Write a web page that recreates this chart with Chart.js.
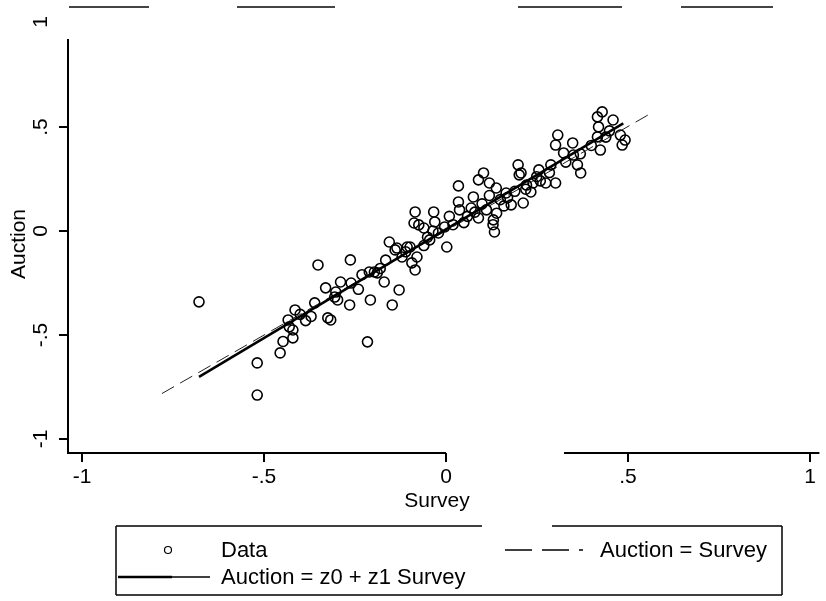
<!DOCTYPE html>
<html lang="en">
<head>
  <meta charset="UTF-8" />
  <title>Auction vs Survey</title>
  <script src="https://cdn.jsdelivr.net/npm/chart.js"></script>
  <style>
    body {
      margin: 0;
      background: #fff;
    }
    #chart-container {
      width: 826px;
      height: 601px;
    }
  </style>
</head>
<body>
  <div id="chart-container">
    <canvas id="auctionChart"></canvas>
  </div>

  <script>
    // Survey (x) and Auction (y) values for each observation
    const surveyVals = [
      -0.678, -0.518, -0.518, -0.455, -0.447, -0.420, -0.420, -0.414, -0.433, -0.360,
      -0.370, -0.351, -0.330, -0.324, -0.316, -0.297, -0.289, -0.302, -0.264, -0.262,
      -0.215, -0.207, -0.210, -0.169, -0.147, -0.128, -0.188, -0.155, -0.139, -0.093,
      -0.084, -0.120, -0.098, -0.087, -0.084, -0.033, -0.134, -0.060, -0.044, -0.196,
      -0.305, -0.074, -0.030, -0.003, 0.003, -0.106, -0.079, -0.400, -0.430, -0.385,
      -0.260, -0.240, -0.230, -0.180, -0.165, -0.110, -0.050, -0.020, -0.060, -0.035,
      0.035, 0.104, 0.090, 0.120, 0.139, 0.199, 0.207, 0.076, 0.035, 0.038,
      0.090, 0.131, 0.134, 0.213, 0.234, 0.256, 0.166, 0.112, 0.180, 0.060,
      0.020, 0.050, 0.100, 0.150, 0.170, 0.190, 0.220, 0.240, 0.260, 0.130,
      0.140, 0.070, 0.010, 0.120, 0.160, 0.080, 0.417, 0.430, 0.460, 0.420,
      0.480, 0.485, 0.425, 0.417, 0.308, 0.302, 0.349, 0.351, 0.324, 0.362,
      0.371, 0.202, 0.289, 0.302, 0.275, 0.250, 0.222, 0.493, 0.450, 0.400,
      0.330, 0.285, 0.440, 0.370
    ];
    const auctionVals = [
      -0.340, -0.633, -0.787, -0.585, -0.530, -0.513, -0.475, -0.379, -0.427, -0.345,
      -0.410, -0.163, -0.273, -0.417, -0.427, -0.331, -0.245, -0.293, -0.355, -0.139,
      -0.532, -0.331, -0.197, -0.245, -0.355, -0.283, -0.201, -0.053, -0.091, -0.153,
      -0.187, -0.125, -0.077, 0.038, 0.091, 0.091, -0.082, 0.014, -0.043, -0.197,
      -0.317, 0.029, 0.043, 0.019, -0.077, -0.077, -0.125, -0.400, -0.460, -0.430,
      -0.250, -0.280, -0.210, -0.180, -0.140, -0.100, -0.030, -0.010, -0.070, 0.000,
      0.216, 0.278, 0.245, 0.230, 0.206, 0.317, 0.278, 0.163, 0.139, 0.101,
      0.062, 0.053, -0.005, 0.134, 0.187, 0.293, 0.182, 0.101, 0.125, 0.070,
      0.030, 0.040, 0.130, 0.150, 0.160, 0.190, 0.200, 0.230, 0.240, 0.030,
      0.085, 0.110, 0.070, 0.170, 0.120, 0.090, 0.547, 0.571, 0.532, 0.499,
      0.460, 0.412, 0.388, 0.451, 0.460, 0.412, 0.422, 0.364, 0.374, 0.317,
      0.278, 0.269, 0.317, 0.230, 0.230, 0.260, 0.220, 0.436, 0.480, 0.410,
      0.330, 0.280, 0.450, 0.370
    ];

    // end points of the fitted line and of the 45 degree line
    const fitSurvey = [-0.678, 0.488];
    const fitAuction = [-0.700, 0.516];
    const diagSurvey = [-0.780, 0.570];
    const diagAuction = [-0.780, 0.570];

    // axis ticks
    const xTickValues = [-1, -0.5, 0, 0.5, 1];
    const xTickLabels = ['-1', '-.5', '0', '.5', '1'];
    const yTickValues = [-1, -0.5, 0, 0.5, 1];
    const yTickLabels = ['-1', '-.5', '0', '.5', '1'];

    const FONT = '21px "Liberation Sans", Arial, sans-serif';
    const LEGEND_FONT = '22px "Liberation Sans", Arial, sans-serif';

    function toPoints(xs, ys) {
      return xs.map((v, i) => ({ x: v, y: ys[i] }));
    }

    function line(ctx, x0, y0, x1, y1) {
      ctx.beginPath();
      ctx.moveTo(x0, y0);
      ctx.lineTo(x1, y1);
      ctx.stroke();
    }

    // axes, labels, titles and legend drawn Stata-style
    const stataFrame = {
      id: 'stataFrame',
      afterDraw(chart) {
        const { ctx, chartArea: a, scales: { x, y } } = chart;
        ctx.save();
        ctx.fillStyle = '#000';
        ctx.lineWidth = 2;

        // top border of the plot region (broken in places)
        ctx.strokeStyle = '#444';
        [[69, 149], [237, 335], [518, 622], [681, 773]].forEach(([x0, x1]) => {
          line(ctx, x0, a.top, x1, a.top);
        });
        ctx.strokeStyle = '#000';

        // y axis line
        line(ctx, a.left, a.top + 32, a.left, a.bottom + 1);

        // x axis line, with its gap
        line(ctx, a.left - 1, a.bottom, 446, a.bottom);
        line(ctx, 564, a.bottom, a.right, a.bottom);

        ctx.font = FONT;

        // x ticks and labels
        ctx.textAlign = 'center';
        ctx.textBaseline = 'alphabetic';
        xTickValues.forEach((v, i) => {
          const px = Math.round(x.getPixelForValue(v));
          line(ctx, px, a.bottom, px, a.bottom + 9);
          ctx.fillText(xTickLabels[i], px, a.bottom + 30);
        });

        // y ticks and rotated labels
        yTickValues.forEach((v, i) => {
          const py = Math.round(y.getPixelForValue(v));
          if (v < 1) {
            line(ctx, a.left - 9, py, a.left, py);
          }
          ctx.save();
          ctx.translate(a.left - 21, py);
          ctx.rotate(-Math.PI / 2);
          ctx.fillText(yTickLabels[i], 0, 0);
          ctx.restore();
        });

        // axis titles
        ctx.fillText('Survey', 437, a.bottom + 54);
        ctx.save();
        ctx.translate(25, 244);
        ctx.rotate(-Math.PI / 2);
        ctx.fillText('Auction', 0, 0);
        ctx.restore();

        // legend box, its top edge has a break
        const lb = { left: 116, right: 782, top: 526, bottom: 595 };
        ctx.lineWidth = 1.5;
        line(ctx, lb.left, lb.top, 482, lb.top);
        line(ctx, 552, lb.top, lb.right, lb.top);
        line(ctx, lb.right, lb.top, lb.right, lb.bottom);
        line(ctx, lb.right, lb.bottom, lb.left, lb.bottom);
        line(ctx, lb.left, lb.bottom, lb.left, lb.top);

        ctx.font = LEGEND_FONT;
        ctx.textAlign = 'left';
        ctx.textBaseline = 'middle';

        // Data
        ctx.lineWidth = 1.2;
        ctx.beginPath();
        ctx.arc(168, 550, 3.5, 0, Math.PI * 2);
        ctx.stroke();
        ctx.fillText('Data', 221, 551);

        // Auction = Survey
        ctx.lineWidth = 1.5;
        ctx.setLineDash([27, 10]);
        line(ctx, 505, 550, 583, 550);
        ctx.setLineDash([]);
        ctx.fillText('Auction = Survey', 600, 551);

        // Auction = z0 + z1 Survey
        ctx.lineWidth = 2.5;
        line(ctx, 118, 577, 172, 577);
        ctx.lineWidth = 1.5;
        line(ctx, 172, 577, 210, 577);
        ctx.fillText('Auction = z0 + z1 Survey', 221, 578);

        ctx.restore();
      }
    };

    const ctx = document.getElementById('auctionChart').getContext('2d');
    new Chart(ctx, {
      type: 'scatter',
      data: {
        datasets: [
          {
            label: 'Data',
            data: toPoints(surveyVals, auctionVals),
            pointStyle: 'circle',
            pointRadius: 5,
            borderColor: '#000',
            borderWidth: 1.6,
            backgroundColor: 'rgba(0,0,0,0)',
            showLine: false
          },
          {
            label: 'Auction = z0 + z1 Survey',
            data: toPoints(fitSurvey, fitAuction),
            showLine: true,
            pointRadius: 0,
            borderColor: '#000',
            borderWidth: 2.5
          },
          {
            label: 'Auction = Survey',
            data: toPoints(diagSurvey, diagAuction),
            showLine: true,
            pointRadius: 0,
            borderColor: '#222',
            borderWidth: 1,
            borderDash: [14, 7]
          }
        ]
      },
      options: {
        responsive: true,
        maintainAspectRatio: false,
        animation: false,
        layout: {
          padding: { left: 68, right: 0, top: 7, bottom: 148 }
        },
        scales: {
          x: { type: 'linear', min: -1.038, max: 1.027, display: false },
          y: { type: 'linear', min: -1.065, max: 1.074, display: false }
        },
        plugins: {
          legend: { display: false },
          tooltip: { enabled: false }
        }
      },
      plugins: [stataFrame]
    });
  </script>
</body>
</html>
